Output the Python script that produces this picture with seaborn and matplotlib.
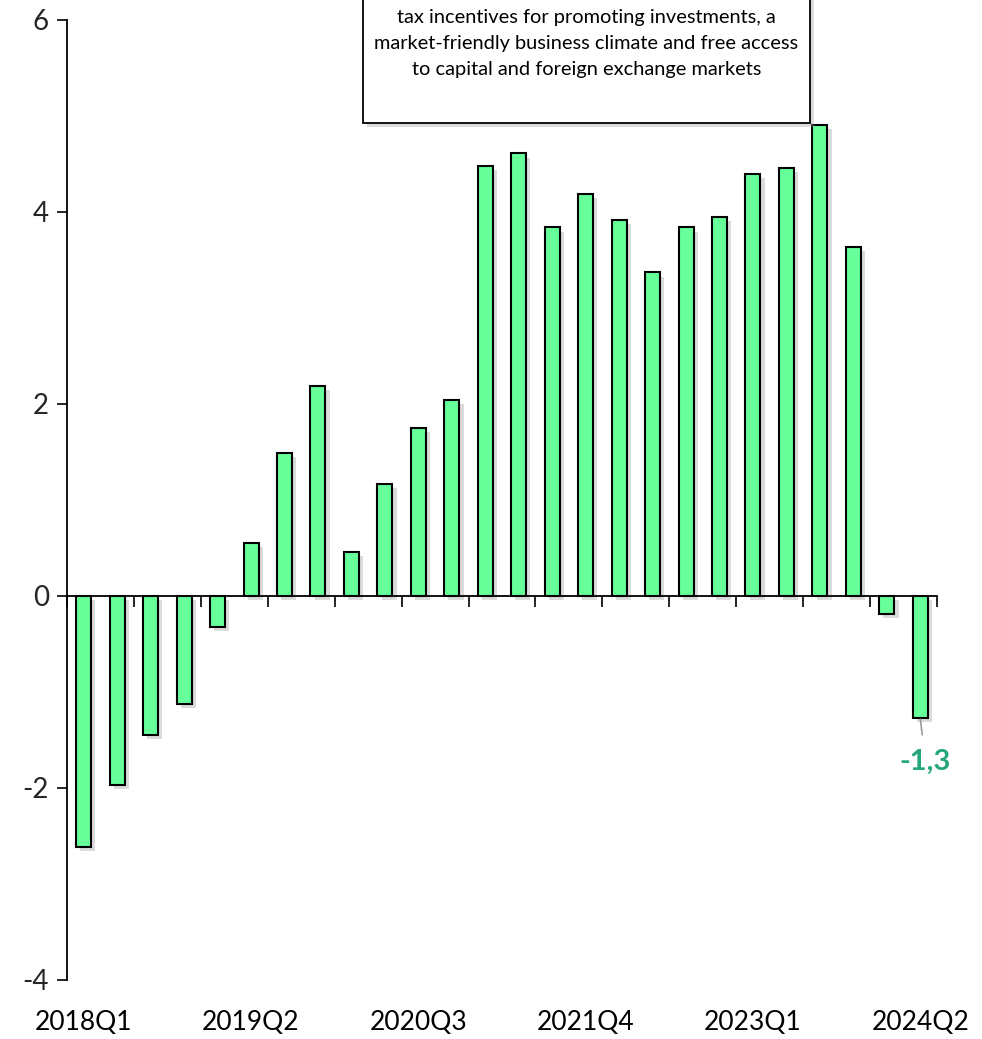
import matplotlib
matplotlib.use("Agg")
import matplotlib.pyplot as plt
import matplotlib.patheffects as pe
from matplotlib.transforms import blended_transform_factory
import seaborn as sns
import pandas as pd

quarters = [f"{y}Q{q}" for y in range(2018, 2025) for q in range(1, 5)][:26]
values = [-2.61, -1.97, -1.45, -1.12, -0.32, 0.55, 1.49, 2.19, 0.46, 1.17,
          1.75, 2.04, 4.48, 4.61, 3.84, 4.19, 3.92, 3.37, 3.84, 3.95,
          4.40, 4.46, 4.91, 3.64, -0.19, -1.27]
tick_labels = ["2018Q1", "2019Q2", "2020Q3", "2021Q4", "2023Q1", "2024Q2"]
box_lines = ["tax incentives for promoting investments, a",
             "market-friendly business climate and free access",
             "to capital and foreign exchange markets"]
last_label = "-1,3"

sns.set_theme(style="white")
plt.rcParams['font.family'] = ['Lato', 'DejaVu Sans']

fig = plt.figure(figsize=(9.82, 10.39), dpi=100)
ax = fig.add_axes([67/982, 1-980/1039, 870/982, 960/1039])

shadow = [pe.SimplePatchShadow(offset=(3, -3), shadow_rgbFace="#999999", alpha=0.35),
          pe.Normal()]

df = pd.DataFrame({"q": quarters, "v": values})
sns.barplot(data=df, x="q", y="v", color="#66FF99", saturation=1, width=0.45,
            edgecolor="black", linewidth=1.5, ax=ax)
for p in ax.patches:
    p.set_facecolor("#66FF99")
    p.set_path_effects(shadow)

ax.set_xlim(-0.5, 25.5)
ax.set_ylim(-4, 6)
ax.set_yticks([-4, -2, 0, 2, 4, 6])
ax.set_yticklabels(["-4", "-2", "0", "2", "4", "6"])
ax.tick_params(axis='y', direction='out', length=7, width=1.2, color='black',
               labelsize=20, pad=6, left=True)
ax.set_xlabel("")
ax.set_ylabel("")

ax.spines['top'].set_visible(False)
ax.spines['right'].set_visible(False)
ax.spines['bottom'].set_position(('data', 0))
for s in ['left', 'bottom']:
    ax.spines[s].set_color('black')
    ax.spines[s].set_linewidth(1.3)
ax.spines['bottom'].set_zorder(3)
ax.set_xticks([k - 0.5 for k in range(0, 27, 2)])
ax.set_xticklabels([])
ax.tick_params(axis='x', direction='out', length=8, width=1.2, color='black', bottom=True)

trans = blended_transform_factory(ax.transData, fig.transFigure)
for i, lab in zip(range(0, 26, 5), tick_labels):
    ax.text(i, 1 - 1022/1039, lab, transform=trans, ha='center', va='center',
            fontsize=19, color='black')

# annotation for last bar
n = len(values) - 1
ax.annotate(last_label, xy=(n, values[n]), xytext=(n + 0.15, values[n] - 0.46),
            ha='center', va='center', fontsize=21, fontweight='bold', color='#26A779',
            arrowprops=dict(arrowstyle='-', color='#999999', lw=1.2,
                            shrinkA=8, shrinkB=1))

# text box
bx0, bx1 = 363/982, 810/982
by0, by1 = 1 - 123/1039, 1.02
rect = plt.Rectangle((bx0, by0), bx1 - bx0, by1 - by0, transform=fig.transFigure,
                     facecolor='white', edgecolor='black', linewidth=1.3, zorder=5,
                     path_effects=shadow)
fig.patches.append(rect)
for j, line in enumerate(box_lines):
    fig.text((bx0 + bx1) / 2, 1 - (18 + 25.5 * j)/1039, line, ha='center', va='center',
             fontsize=14.4, color='black', zorder=6)

fig.savefig("out.png", dpi=100)
